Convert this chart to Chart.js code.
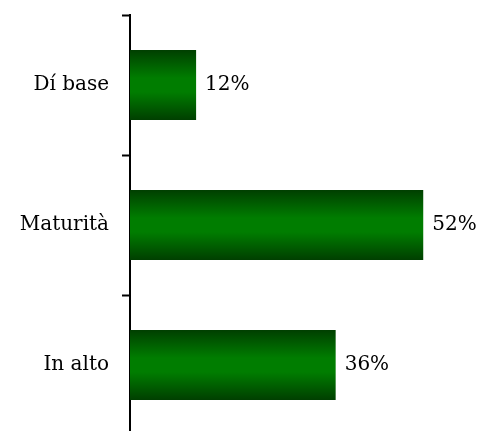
<!DOCTYPE html>
<html>
<head>
<meta charset="utf-8">
<script src="https://cdn.jsdelivr.net/npm/chart.js@4"></script>
<style>
  html, body { margin: 0; padding: 0; background: #fff; overflow: hidden; }
  #wrap { width: 484px; height: 440px; }
</style>
</head>
<body>
<div id="wrap"><canvas id="myChart"></canvas></div>
<script>
// data
const categories = ["Dí base", "Maturità", "In alto"];
const values = [11.7, 51.9, 36.4];
const valueLabels = ["12%", "52%", "36%"];

const fontFamily = "'DejaVu Serif', 'Liberation Serif', serif";

// vertical green gradient for each bar
function barGradient(context) {
  const chart = context.chart;
  const y = chart.scales.y;
  if (!chart.chartArea || !y) return "#008000";
  const c = y.getPixelForTick(context.dataIndex);
  const half = y.height / categories.length * 0.25;
  const g = chart.ctx.createLinearGradient(0, c - half, 0, c + half);
  g.addColorStop(0, "#003f00");
  g.addColorStop(0.4, "#007d00");
  g.addColorStop(0.6, "#007d00");
  g.addColorStop(1, "#003f00");
  return g;
}

// draw the % text right of each bar
const valueLabelPlugin = {
  id: "valueLabels",
  afterDatasetsDraw(chart) {
    const ctx = chart.ctx;
    const meta = chart.getDatasetMeta(0);
    ctx.save();
    ctx.font = "20px " + fontFamily;
    ctx.fillStyle = "#000";
    ctx.textAlign = "left";
    ctx.textBaseline = "middle";
    meta.data.forEach(function (bar, i) {
      ctx.fillText(valueLabels[i], bar.x + 9, bar.y);
    });
    ctx.restore();
  },
};

new Chart(document.getElementById("myChart"), {
  type: "bar",
  data: {
    labels: categories,
    datasets: [
      {
        data: values,
        backgroundColor: barGradient,
        categoryPercentage: 1,
        barPercentage: 0.5,
      },
    ],
  },
  options: {
    indexAxis: "y",
    responsive: true,
    maintainAspectRatio: false,
    animation: false,
    layout: { padding: { top: 15, bottom: 5, right: 15, left: 0 } },
    plugins: {
      legend: { display: false },
      tooltip: { enabled: false },
    },
    scales: {
      x: {
        display: false,
        min: 0,
        max: 60,
      },
      y: {
        afterFit: function (scale) {
          scale.width = 130;
          scale.paddingTop = 0;
          scale.paddingBottom = 0;
        },
        border: { display: true, color: "#000", width: 2 },
        grid: {
          drawOnChartArea: false,
          drawTicks: true,
          tickLength: 8,
          tickColor: "#000",
          tickWidth: 2,
          offset: true,
        },
        ticks: {
          color: "#000",
          padding: 13,
          font: { family: fontFamily, size: 20 },
        },
      },
    },
  },
  plugins: [valueLabelPlugin],
});
</script>
</body>
</html>
